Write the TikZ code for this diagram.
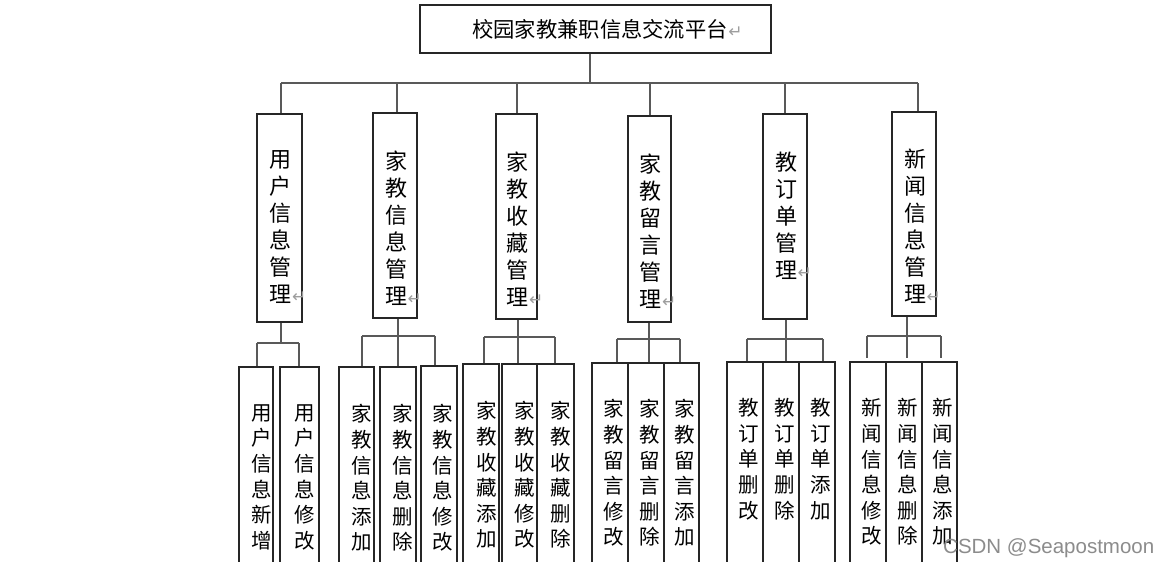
\documentclass[tikz,border=0pt]{standalone}
\usepackage{fontspec}
\newfontfamily\cjk{Noto Sans CJK SC}
\newfontfamily\symf{DejaVu Sans}
\newfontfamily\wmfont{Liberation Sans}
\newcommand\parmark{\rlap{\kern0.5pt{\symf\color{black!38}\fontsize{17}{17}\selectfont ↵}}}
\newcommand\mybox[6]{\node[#6, minimum width={(#4-#2)*1pt}, minimum height={(#5-#3)*1pt}] (#1) at ({(#2+#4)/2},{(#3+#5)/2}) {};}
\tikzset{
  box/.style={draw=black!85, line width=1.3pt, fill=white, inner sep=0pt, rectangle},
  conn/.style={draw=black!65, line width=1.6pt},
  titletext/.style={font=\cjk\fontsize{21.3}{21.3}\selectfont, inner sep=0pt},
  ltwo/.style={font=\cjk\fontsize{22}{27}\selectfont, align=center, inner sep=0pt},
  lthree/.style={font=\cjk\fontsize{20.5}{25.6}\selectfont, align=center, inner sep=0pt},
  wm/.style={font=\wmfont\fontsize{20.5}{20.5}\selectfont, text=black!45, inner sep=0pt}
}
\begin{document}
\begin{tikzpicture}[x=1pt,y=-1pt]
\useasboundingbox (0,0) rectangle (1160,562);
\fill[white] (0,0) rectangle (1160,562);
\clip (0,0) rectangle (1160,562);

% title
\mybox{title}{420}{5}{771}{53}{box}
\node[titletext] (ttitle) at (600,29) {校园家教兼职信息交流平台\parmark};

% level 2
\mybox{b1}{257}{114}{302}{322}{box}
\mybox{b2}{373}{113}{417}{318}{box}
\mybox{b3}{496}{114}{537}{319}{box}
\mybox{b4}{628}{116}{671}{322}{box}
\mybox{b5}{763}{114}{807}{319}{box}
\mybox{b6}{892}{112}{936}{316}{box}
\node[ltwo, anchor=north] (t1) at ([xshift=1pt,yshift=-37pt]b1.north) {用\\户\\信\\息\\管\\理\parmark};
\node[ltwo, anchor=north] (t2) at ([xshift=1pt,yshift=-38pt]b2.north) {家\\教\\信\\息\\管\\理\parmark};
\node[ltwo, anchor=north] (t3) at ([xshift=1pt,yshift=-38pt]b3.north) {家\\教\\收\\藏\\管\\理\parmark};
\node[ltwo, anchor=north] (t4) at ([xshift=1pt,yshift=-38pt]b4.north) {家\\教\\留\\言\\管\\理\parmark};
\node[ltwo, anchor=north] (t5) at ([xshift=1pt,yshift=-38pt]b5.north) {教\\订\\单\\管\\理\parmark};
\node[ltwo, anchor=north] (t6) at ([xshift=1pt,yshift=-37pt]b6.north) {新\\闻\\信\\息\\管\\理\parmark};

% level 3
\mybox{A}{239}{367}{273}{585}{box}
\mybox{B}{280}{367}{319}{585}{box}
\mybox{C}{339}{367}{374}{585}{box}
\mybox{D}{380}{367}{416}{585}{box}
\mybox{E}{421}{366}{457}{585}{box}
\mybox{F}{463}{364}{499}{585}{box}
\mybox{G}{502}{364}{537}{585}{box}
\mybox{H}{537}{364}{574}{585}{box}
\mybox{I}{592}{363}{628}{585}{box}
\mybox{J}{628}{363}{664}{585}{box}
\mybox{K}{664}{363}{699}{585}{box}
\mybox{L}{727}{362}{763}{585}{box}
\mybox{M}{763}{362}{799}{585}{box}
\mybox{N}{799}{362}{835}{585}{box}
\mybox{O}{850}{362}{886}{585}{box}
\mybox{P}{886}{362}{922}{585}{box}
\mybox{Q}{922}{362}{957}{585}{box}

\node[lthree, anchor=north east] (tA) at ([xshift=-1pt,yshift=-38pt]A.north east) {用\\户\\信\\息\\新\\增};
\node[lthree, anchor=north east] (tB) at ([xshift=-4pt,yshift=-38pt]B.north east) {用\\户\\信\\息\\修\\改};
\node[lthree, anchor=north east] (tC) at ([xshift=-2pt,yshift=-38pt]C.north east) {家\\教\\信\\息\\添\\加};
\node[lthree, anchor=north east] (tD) at ([xshift=-3pt,yshift=-38pt]D.north east) {家\\教\\信\\息\\删\\除};
\node[lthree, anchor=north east] (tE) at ([xshift=-4pt,yshift=-39pt]E.north east) {家\\教\\信\\息\\修\\改};
\node[lthree, anchor=north east] (tF) at ([xshift=-2pt,yshift=-38pt]F.north east) {家\\教\\收\\藏\\添\\加};
\node[lthree, anchor=north east] (tG) at ([xshift=-2pt,yshift=-38pt]G.north east) {家\\教\\收\\藏\\修\\改};
\node[lthree, anchor=north east] (tH) at ([xshift=-3pt,yshift=-38pt]H.north east) {家\\教\\收\\藏\\删\\除};
\node[lthree, anchor=north east] (tI) at ([xshift=-4pt,yshift=-37pt]I.north east) {家\\教\\留\\言\\修\\改};
\node[lthree, anchor=north east] (tJ) at ([xshift=-4pt,yshift=-37pt]J.north east) {家\\教\\留\\言\\删\\除};
\node[lthree, anchor=north east] (tK) at ([xshift=-4pt,yshift=-37pt]K.north east) {家\\教\\留\\言\\添\\加};
\node[lthree, anchor=north east] (tL) at ([xshift=-4pt,yshift=-37pt]L.north east) {教\\订\\单\\删\\改};
\node[lthree, anchor=north east] (tM) at ([xshift=-4pt,yshift=-37pt]M.north east) {教\\订\\单\\删\\除};
\node[lthree, anchor=north east] (tN) at ([xshift=-4pt,yshift=-37pt]N.north east) {教\\订\\单\\添\\加};
\node[lthree, anchor=north east] (tO) at ([xshift=-4pt,yshift=-37pt]O.north east) {新\\闻\\信\\息\\修\\改};
\node[lthree, anchor=north east] (tP) at ([xshift=-4pt,yshift=-37pt]P.north east) {新\\闻\\信\\息\\删\\除};
\node[lthree, anchor=north east] (tQ) at ([xshift=-4pt,yshift=-37pt]Q.north east) {新\\闻\\信\\息\\添\\加};

% top connectors
\coordinate (bus) at (590,83);
\coordinate (s1) at (281,83);
\coordinate (s2) at (397,83);
\coordinate (s3) at (517,83);
\coordinate (s4) at (650,83);
\coordinate (s5) at (785,83);
\coordinate (s6) at (918,83);
\draw[conn] (title.south -| bus) -- (bus);
\draw[conn] (s1) -- (s6);
\draw[conn] (s1) -- (s1 |- b1.north);
\draw[conn] (s2) -- (s2 |- b2.north);
\draw[conn] (s3) -- (s3 |- b3.north);
\draw[conn] (s4) -- (s4 |- b4.north);
\draw[conn] (s5) -- (s5 |- b5.north);
\draw[conn] (s6) -- (s6 |- b6.north);

% group 1
\coordinate (g1) at (281,343);
\coordinate (g1a) at (257,343);
\coordinate (g1b) at (299,343);
\draw[conn] (g1 |- b1.south) -- (g1);
\draw[conn] (g1a) -- (g1b);
\draw[conn] (g1a) -- (g1a |- A.north);
\draw[conn] (g1b) -- (g1b |- B.north);

% group 2
\coordinate (g2) at (398,336);
\coordinate (g2a) at (362,336);
\coordinate (g2c) at (435,336);
\draw[conn] (g2 |- b2.south) -- (g2);
\draw[conn] (g2a) -- (g2c);
\draw[conn] (g2a) -- (g2a |- C.north);
\draw[conn] (g2) -- (g2 |- D.north);
\draw[conn] (g2c) -- (g2c |- E.north);

% group 3
\coordinate (g3) at (518,337);
\coordinate (g3a) at (484,337);
\coordinate (g3c) at (555,337);
\draw[conn] (g3 |- b3.south) -- (g3);
\draw[conn] (g3a) -- (g3c);
\draw[conn] (g3a) -- (g3a |- F.north);
\draw[conn] (g3) -- (g3 |- G.north);
\draw[conn] (g3c) -- (g3c |- H.north);

% group 4
\coordinate (g4) at (649,339);
\coordinate (g4a) at (617,339);
\coordinate (g4c) at (680,339);
\draw[conn] (g4 |- b4.south) -- (g4);
\draw[conn] (g4a) -- (g4c);
\draw[conn] (g4a) -- (g4a |- I.north);
\draw[conn] (g4) -- (g4 |- J.north);
\draw[conn] (g4c) -- (g4c |- K.north);

% group 5
\coordinate (g5) at (786,339);
\coordinate (g5a) at (747,339);
\coordinate (g5c) at (823,339);
\draw[conn] (g5 |- b5.south) -- (g5);
\draw[conn] (g5a) -- (g5c);
\draw[conn] (g5a) -- (g5a |- L.north);
\draw[conn] (g5) -- (g5 |- M.north);
\draw[conn] (g5c) -- (g5c |- N.north);

% group 6
\coordinate (g6) at (907,336);
\coordinate (g6a) at (867,336);
\coordinate (g6c) at (941,336);
\draw[conn] (g6 |- b6.south) -- (g6);
\draw[conn] (g6a) -- (g6c);
\draw[conn] (g6a) -- ([yshift=3pt]g6a |- O.north);
\draw[conn] (g6) -- ([yshift=3pt]g6 |- P.north);
\draw[conn] (g6c) -- ([yshift=3pt]g6c |- Q.north);

% watermark
\node[wm, anchor=base west] (wm) at (943,553) {CSDN @Seapostmoon};
\end{tikzpicture}
\end{document}
